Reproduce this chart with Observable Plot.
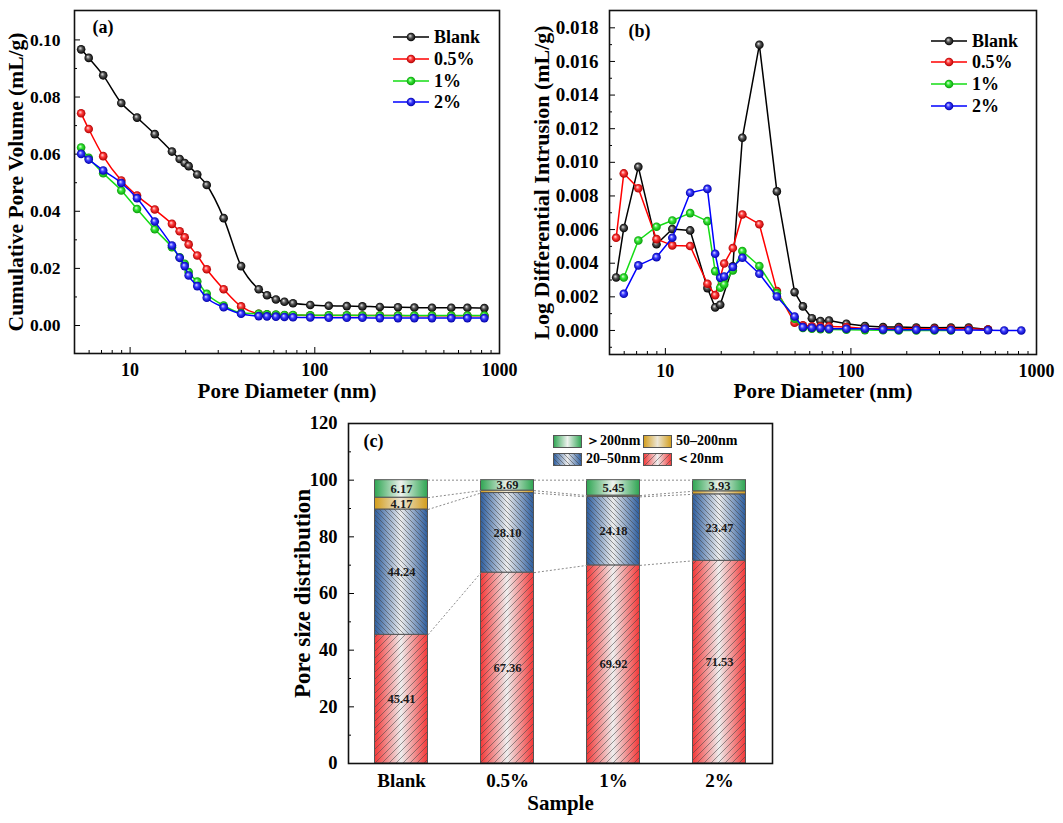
<!DOCTYPE html>
<html><head><meta charset="utf-8">
<script src="https://cdn.jsdelivr.net/npm/d3@7"></script>
<script src="https://cdn.jsdelivr.net/npm/@observablehq/plot@0.6"></script>
<style>
body{margin:0;background:#fff;}
#root{position:relative;width:1063px;height:823px;overflow:hidden;font-family:"Liberation Serif","Times New Roman",serif;font-weight:bold;color:#000;}
#root svg.plot{position:absolute;}
.lrow{position:absolute;height:22px;display:flex;align-items:center;white-space:nowrap;}
.lrow span{margin-left:5px;font-size:18px;}
.crow{position:absolute;height:16px;display:flex;align-items:center;white-space:nowrap;font-size:14px;}
.crow span{margin-left:4px;}
</style></head><body>
<svg width="0" height="0" style="position:absolute">
<defs>
<radialGradient id="ball0" cx="0.5" cy="0.5" r="0.5" fx="0.38" fy="0.35"><stop offset="0" stop-color="#e8e8e8"/><stop offset="0.45" stop-color="#555"/><stop offset="1" stop-color="#000"/></radialGradient>
<radialGradient id="ball1" cx="0.5" cy="0.5" r="0.5" fx="0.38" fy="0.35"><stop offset="0" stop-color="#ffe0e0"/><stop offset="0.45" stop-color="#ff3a3a"/><stop offset="1" stop-color="#b00000"/></radialGradient>
<radialGradient id="ball2" cx="0.5" cy="0.5" r="0.5" fx="0.38" fy="0.35"><stop offset="0" stop-color="#e8ffe8"/><stop offset="0.45" stop-color="#33e633"/><stop offset="1" stop-color="#0a9a0a"/></radialGradient>
<radialGradient id="ball3" cx="0.5" cy="0.5" r="0.5" fx="0.38" fy="0.35"><stop offset="0" stop-color="#e0e0ff"/><stop offset="0.45" stop-color="#3a3aff"/><stop offset="1" stop-color="#0000a8"/></radialGradient>
<linearGradient id="gGreen" x1="0" x2="1" y1="0" y2="0"><stop offset="0" stop-color="#2ea552"/><stop offset="0.5" stop-color="#eef2ee"/><stop offset="1" stop-color="#2ea552"/></linearGradient>
<linearGradient id="gGold" x1="0" x2="1" y1="0" y2="0"><stop offset="0" stop-color="#d39d1a"/><stop offset="0.5" stop-color="#ece6d6"/><stop offset="1" stop-color="#d39d1a"/></linearGradient>
<linearGradient id="gBlue" x1="0" x2="1" y1="0" y2="0"><stop offset="0" stop-color="#2b5c9e"/><stop offset="0.5" stop-color="#ececec"/><stop offset="1" stop-color="#2b5c9e"/></linearGradient>
<linearGradient id="gRed" x1="0" x2="1" y1="0" y2="0"><stop offset="0" stop-color="#f43636"/><stop offset="0.5" stop-color="#eeeeee"/><stop offset="1" stop-color="#f43636"/></linearGradient>
<pattern id="hatchF" patternUnits="userSpaceOnUse" width="7" height="7"><path d="M-1,1 l2,-2 M0,7 l7,-7 M6,8 l2,-2" stroke="#444" stroke-width="0.55"/></pattern>
<pattern id="hatchB" patternUnits="userSpaceOnUse" width="5" height="5"><path d="M-1,4 l2,2 M0,0 l5,5 M4,-1 l2,2" stroke="#444" stroke-width="0.55"/></pattern>
</defs></svg>
<div id="root"></div>
<script>
// ---------- data ----------
const seriesNames = ["Blank", "0.5%", "1%", "2%"];
const seriesColors = ["#000000", "#ff0000", "#14dc14", "#0000ff"];
const diameters = [5.43, 5.97, 7.15, 8.96, 10.9, 13.6, 16.85, 18.55, 19.75, 20.75, 23.1, 26.0, 32.1, 39.9, 49.7, 55.1, 61.6, 68.5, 76.2, 94.5, 119, 149, 181, 225, 282, 346, 431, 548, 670, 828];

const cumBlank = [0.0967,0.0937,0.0876,0.0779,0.0728,0.0670,0.0609,0.0583,0.0569,0.0558,0.0529,0.0492,0.0376,0.0208,0.0127,0.0106,0.0091,0.0083,0.0078,0.0072,0.0069,0.0068,0.0067,0.0065,0.0064,0.0063,0.0062,0.0062,0.0062,0.0061];
const cum05 = [0.0743,0.0688,0.0593,0.0508,0.0455,0.0406,0.0356,0.0330,0.0309,0.0284,0.0245,0.0197,0.0127,0.0067,0.0041,0.0038,0.0037,0.0036,0.0036,0.0035,0.0035,0.0035,0.0035,0.0035,0.0035,0.0034,0.0034,0.0034,0.0034,0.0034];
const cum1 = [0.0623,0.0587,0.0533,0.0473,0.0408,0.0337,0.0274,0.0239,0.0216,0.0187,0.0154,0.0111,0.0070,0.0044,0.0041,0.0039,0.0038,0.0037,0.0037,0.0036,0.0036,0.0036,0.0035,0.0035,0.0035,0.0035,0.0035,0.0035,0.0035,0.0035];
const cum2 = [0.0601,0.0581,0.0543,0.0499,0.0446,0.0364,0.0280,0.0237,0.0208,0.0175,0.0138,0.0097,0.0064,0.0041,0.0033,0.0032,0.0031,0.0030,0.0029,0.0028,0.0027,0.0027,0.0027,0.0026,0.0026,0.0026,0.0026,0.0026,0.0026,0.0026];

const logBlank = [0.00315,0.00609,0.00973,0.00513,0.00603,0.00595,0.00252,0.00137,0.00153,null,0.00381,0.01146,0.01699,0.00827,0.00228,0.00143,0.00073,0.00056,0.00059,0.0004,0.00026,0.0002,0.0002,0.00018,0.00016,0.00018,0.00018,0.00006,null,null];
const log05 = [0.00551,0.00934,0.00846,0.00543,0.00506,0.00502,0.00278,0.0021,null,0.00398,0.0049,0.0069,0.00632,0.00234,0.00046,0.0003,0.00025,0.00024,0.00024,0.0002,0.00012,0.0001,0.0001,0.0001,0.0001,0.0001,0.0001,0.00005,null,null];
const log1 = [null,0.00315,0.00535,0.00617,0.00654,0.00698,0.0065,0.00353,0.00254,0.00274,0.00357,0.00472,0.00383,0.00222,0.0007,0.00015,0.0001,0.00008,0.00006,0.00004,0.00002,0.00001,0,0,0,0,null,null,null,null];
const log2 = [null,0.00218,0.00387,0.00436,0.00551,0.00819,0.00842,0.00456,0.00313,0.00321,0.00377,0.00432,0.00337,0.00202,0.00083,0.0002,0.00016,0.00014,0.0001,0.0001,0.0001,0.00006,0.00004,0.00004,0.00004,0.00003,0.00002,0.00001,0,0];

const samples = ["Blank", "0.5%", "1%", "2%"];
const below20 = [45.41, 67.36, 69.92, 71.53];
const from20to50 = [44.24, 28.10, 24.18, 23.47];
const from50to200 = [4.17, 0.85, 0.45, 1.07];
const above200 = [6.17, 3.69, 5.45, 3.93];

const ticksA = [0, 0.02, 0.04, 0.06, 0.08, 0.10];
const ticksB = [0, 0.002, 0.004, 0.006, 0.008, 0.010, 0.012, 0.014, 0.016, 0.018];
const ticksC = [0, 20, 40, 60, 80, 100, 120];
const ticksLog = [10, 100, 1000];

// ---------- helpers ----------
const FONT = '"Liberation Serif","Times New Roman",serif';
const baseStyle = {fontFamily: FONT, fontSize: "18px", fontWeight: "bold", color: "#000", background: "transparent", overflow: "visible"};
const minorLog = [6,7,8,9,20,30,40,50,60,70,80,90,200,300,400,500,600,700,800,900];
const toRows = arr => diameters.map((d, i) => ({d, v: arr[i]})).filter(r => r.v != null);
const root = document.getElementById("root");
function place(el, left, top) { el.style.left = left + "px"; el.style.top = top + "px"; root.appendChild(el); }

function seriesMarks(arrays, curve) {
  const m = [];
  arrays.forEach((arr, k) => {
    const rows = toRows(arr);
    m.push(Plot.line(rows, {x: "d", y: "v", stroke: seriesColors[k], strokeWidth: 1.5, curve}));
    m.push(Plot.dot(rows, {x: "d", y: "v", r: 4.3, fill: `url(#ball${k})`, stroke: null}));
  });
  return m;
}
function yAxes(ticks, minor, fmt, pad, fs) {
  return [
    Plot.axisY({ticks, tickSize: -6, tickPadding: pad, tickFormat: fmt, label: null, fontSize: fs}),
    Plot.axisY({ticks: minor, tickSize: -3, tickFormat: () => "", label: null})
  ];
}
function xLogAxes(fs) {
  return [
    Plot.axisX({ticks: ticksLog, tickSize: -6, tickPadding: 16, tickFormat: d => String(d), label: null, fontSize: fs}),
    Plot.axisX({ticks: minorLog, tickSize: -3, tickFormat: () => "", label: null})
  ];
}
function legend(left, centers) {
  seriesNames.forEach((name, k) => {
    const div = document.createElement("div");
    div.className = "lrow";
    div.innerHTML = `<svg width="36" height="12"><line x1="0" y1="6" x2="36" y2="6" stroke="${seriesColors[k]}" stroke-width="1.5"/><circle cx="18" cy="6" r="4.3" fill="url(#ball${k})"/></svg><span>${name}</span>`;
    place(div, left, centers[k] - 11);
  });
}

// ---------- panel (a) ----------
const plotA = Plot.plot({
  width: 530, height: 400, marginLeft: 74, marginRight: 31, marginTop: 10, marginBottom: 47,
  style: baseStyle,
  x: {type: "log", domain: [5, 1000], label: null},
  y: {domain: [-0.0098, 0.1103], label: null},
  marks: [
    ...xLogAxes(18),
    ...yAxes(ticksA, [0.01, 0.03, 0.05, 0.07, 0.09], d3.format(".2f"), 20, 17.5),
    ...seriesMarks([cumBlank, cum05, cum1, cum2], "monotone-x"),
    Plot.frame({stroke: "#111", strokeWidth: 1.6}),
    Plot.text(["Pore Diameter (nm)"], {frameAnchor: "bottom", lineAnchor: "middle", textAnchor: "middle", dy: 38, fontSize: 21}),
    Plot.text(["Cumulative Pore Volume (mL/g)"], {frameAnchor: "left", lineAnchor: "middle", textAnchor: "middle", rotate: -90, dx: -58, fontSize: 21.5}),
    Plot.text(["(a)"], {frameAnchor: "top-left", dx: 18, dy: 10, fontSize: 18})
  ]
});
plotA.classList.add("plot");
place(plotA, 0, 0);
legend(393, [37, 59, 81, 102]);

// ---------- panel (b) ----------
const plotB = Plot.plot({
  width: 533, height: 400, marginLeft: 79, marginRight: 27, marginTop: 10, marginBottom: 46,
  style: baseStyle,
  x: {type: "log", domain: [5, 1000], label: null},
  y: {domain: [-0.00143, 0.01903], label: null},
  marks: [
    ...xLogAxes(18),
    ...yAxes(ticksB, [-0.001, 0.001, 0.003, 0.005, 0.007, 0.009, 0.011, 0.013, 0.015, 0.017], d3.format(".3f"), 17, 19),
    ...seriesMarks([logBlank, log05, log1, log2], "linear"),
    Plot.frame({stroke: "#111", strokeWidth: 1.6}),
    Plot.text(["Pore Diameter (nm)"], {frameAnchor: "bottom", lineAnchor: "middle", textAnchor: "middle", dy: 37, fontSize: 21}),
    Plot.text(["Log Differential Intrusion (mL/g)"], {frameAnchor: "left", lineAnchor: "middle", textAnchor: "middle", rotate: -90, dx: -68, fontSize: 22}),
    Plot.text(["(b)"], {frameAnchor: "top-left", dx: 19, dy: 14, fontSize: 18})
  ]
});
plotB.classList.add("plot");
place(plotB, 530, 0);
legend(931, [41, 62, 84, 106]);

// ---------- panel (c) ----------
const cats = [
  {key: "lt20", vals: below20, fill: "url(#gRed)", hatch: "url(#hatchF)"},
  {key: "m2050", vals: from20to50, fill: "url(#gBlue)", hatch: "url(#hatchB)"},
  {key: "m50200", vals: from50to200, fill: "url(#gGold)", hatch: null},
  {key: "gt200", vals: above200, fill: "url(#gGreen)", hatch: null}
];
const stackRows = [];
samples.forEach((s, i) => {
  let base = 0;
  cats.forEach(c => { stackRows.push({i, key: c.key, v: c.vals[i], y1: base, y2: base + c.vals[i]}); base += c.vals[i]; });
});
const boundaries = samples.map((s, i) => [below20[i], below20[i] + from20to50[i], below20[i] + from20to50[i] + from50to200[i], 100]);
const linkRows = [];
for (let i = 0; i < samples.length - 1; i++) for (let k = 0; k < 4; k++) linkRows.push({x1: i + 0.25, x2: i + 0.75, y1: boundaries[i][k], y2: boundaries[i + 1][k]});

const barMarks = [];
cats.forEach(c => {
  const rows = stackRows.filter(r => r.key === c.key);
  barMarks.push(Plot.rectY(rows, {x1: d => d.i - 0.25, x2: d => d.i + 0.25, y1: "y1", y2: "y2", fill: c.fill}));
  if (c.hatch) barMarks.push(Plot.rectY(rows, {x1: d => d.i - 0.25, x2: d => d.i + 0.25, y1: "y1", y2: "y2", fill: c.hatch}));
  barMarks.push(Plot.rectY(rows, {x1: d => d.i - 0.25, x2: d => d.i + 0.25, y1: "y1", y2: "y2", fill: "none", stroke: "#555", strokeWidth: 1}));
});

const plotC = Plot.plot({
  width: 520, height: 413, marginLeft: 68, marginRight: 28, marginTop: 13, marginBottom: 60,
  style: baseStyle,
  x: {type: "linear", domain: [-0.5, 3.5], label: null},
  y: {domain: [0, 120], label: null},
  marks: [
    ...barMarks,
    Plot.link(linkRows, {x1: "x1", y1: "y1", x2: "x2", y2: "y2", stroke: "#8a8a8a", strokeWidth: 1, strokeDasharray: "2,2"}),
    Plot.text(stackRows.filter(r => r.v > 2), {x: "i", y: d => (d.y1 + d.y2) / 2, text: d => d.v.toFixed(2), fontSize: 12.5, fontWeight: "bold", fill: "#1a1a1a"}),
    Plot.axisX({ticks: [0, 1, 2, 3], tickSize: 0, tickPadding: 10, tickFormat: i => samples[i], label: null, fontSize: 19}),
    ...yAxes(ticksC, [10, 30, 50, 70, 90, 110], d => String(d), 17, 18.5),
    Plot.frame({stroke: "#111", strokeWidth: 1.6}),
    Plot.text(["Sample"], {frameAnchor: "bottom", lineAnchor: "middle", textAnchor: "middle", dy: 40, fontSize: 21}),
    Plot.text(["Pore size distribution"], {frameAnchor: "left", lineAnchor: "middle", textAnchor: "middle", rotate: -90, dx: -46, fontSize: 23}),
    Plot.text(["(c)"], {frameAnchor: "top-left", dx: 15, dy: 11, fontSize: 18})
  ]
});
plotC.classList.add("plot");
place(plotC, 280, 410);

// legend (c)
const legC = [
  [{fill: "url(#gGreen)", hatch: null, text: "＞200nm"}, {fill: "url(#gGold)", hatch: null, text: "50–200nm"}],
  [{fill: "url(#gBlue)", hatch: "url(#hatchB)", text: "20–50nm"}, {fill: "url(#gRed)", hatch: "url(#hatchF)", text: "＜20nm"}]
];
legC.forEach((row, r) => row.forEach((it, c) => {
  const div = document.createElement("div");
  div.className = "crow";
  div.innerHTML = `<svg width="29" height="13"><rect x="0.5" y="0.5" width="28" height="12" fill="${it.fill}" stroke="#555"/>${it.hatch ? `<rect x="0.5" y="0.5" width="28" height="12" fill="${it.hatch}"/>` : ""}</svg><span>${it.text}</span>`;
  place(div, 553 + c * 90, 433 + r * 18);
}));
</script>
</body></html>
